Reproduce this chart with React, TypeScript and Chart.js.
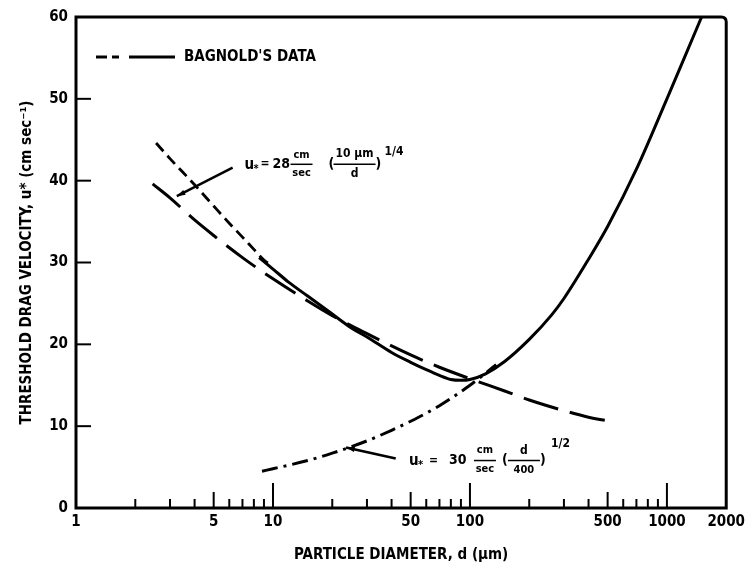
import React, { useEffect, useRef } from "react";
import { Chart, registerables } from "chart.js";
Chart.register(...registerables);

// ---- data ----
// Bagnold's data (solid)
const bagnoldD = [8.5, 10, 12, 15, 20, 25, 30, 40, 50, 60, 70, 80, 90, 100, 120, 150, 200, 260, 300, 400, 500, 700, 1000, 1250, 1500];
const bagnoldU = [30.6, 29.2, 27.6, 25.9, 23.7, 22.0, 20.9, 19.0, 17.8, 16.9, 16.2, 15.7, 15.6, 15.7, 16.4, 17.9, 20.6, 23.6, 25.6, 30.4, 34.4, 41.4, 50.0, 55.5, 60];
// Bagnold's data, extrapolated (short dashes)
const bagnoldExtD = [2.55, 3, 4, 5, 6, 7, 8, 9, 9.6];
const bagnoldExtU = [44.6, 42.7, 39.5, 36.9, 34.8, 33.1, 31.6, 30.3, 29.8];
// u* = 28 cm/sec (10 µm / d)^1/4 (long dashes)
const quarterD = [2.45, 3, 4, 5, 7, 10, 15, 20, 30, 50, 70, 100, 150, 200, 300, 400, 550];
const quarterU = [39.6, 37.9, 35.2, 33.3, 30.6, 28.0, 25.3, 23.5, 21.3, 18.7, 17.2, 15.8, 14.3, 13.2, 11.9, 11.1, 10.5];
// u* = 30 cm/sec (d / 400)^1/2 (dash-dot)
const halfD = [8.8, 10, 15, 20, 30, 40, 50, 70, 100, 136];
const halfU = [4.5, 4.8, 5.8, 6.7, 8.2, 9.5, 10.6, 12.5, 15.0, 17.5];

// axis ticks
const yTickValues = [0, 10, 20, 30, 40, 50, 60];
const yInnerTicks = [10, 20, 30, 40, 50];
const xTickLabels = [1, 5, 10, 50, 100, 500, 1000, 2000];
const xMajorTicks = [10, 100, 1000];
const xMidTicks = [5, 50, 500];
const xMinorTicks = [2, 3, 4, 6, 7, 8, 9, 20, 30, 40, 60, 70, 80, 90, 200, 300, 400, 600, 700, 800, 900];

// annotation anchors (data coordinates)
const eq1Anchor = { x: 7.17, y: 42.0 };
const eq1Leader = [{ x: 6.24, y: 41.6 }, { x: 3.25, y: 38.1 }];
const eq2Anchor = { x: 49, y: 5.8 };
const eq2Leader = [{ x: 42, y: 6.05 }, { x: 23.5, y: 7.4 }];

const FONT = "'Liberation Sans Narrow', 'DejaVu Sans Condensed', 'Arial Narrow', sans-serif";

const pts = (xs: number[], ys: number[]) => xs.map((v, i) => ({ x: v, y: ys[i] }));

const decor = {
  id: "decor",
  afterDatasetsDraw(chart: any) {
    const { ctx, chartArea: a, scales } = chart;
    const xs = scales.x;
    const ys = scales.y;
    const px = (v: number) => xs.getPixelForValue(v);
    const py = (v: number) => ys.getPixelForValue(v);
    ctx.save();
    ctx.strokeStyle = "#000";
    ctx.fillStyle = "#000";
    ctx.lineCap = "butt";
    // frame
    ctx.lineWidth = 3;
    ctx.beginPath();
    ctx.moveTo(a.left, a.top);
    ctx.lineTo(a.right - 5, a.top);
    ctx.quadraticCurveTo(a.right, a.top, a.right, a.top + 5);
    ctx.lineTo(a.right, a.bottom);
    ctx.lineTo(a.left, a.bottom);
    ctx.closePath();
    ctx.stroke();
    // x ticks (inside)
    ctx.lineWidth = 2;
    const xt = (v: number, len: number) => {
      const p = px(v);
      ctx.beginPath();
      ctx.moveTo(p, a.bottom);
      ctx.lineTo(p, a.bottom - len);
      ctx.stroke();
    };
    xMajorTicks.forEach((v) => xt(v, 25));
    xMidTicks.forEach((v) => xt(v, 16));
    xMinorTicks.forEach((v) => xt(v, 9));
    yInnerTicks.forEach((v) => {
      const p = py(v);
      ctx.beginPath();
      ctx.moveTo(a.left, p);
      ctx.lineTo(a.left + 15, p);
      ctx.stroke();
    });

    // legend
    const ly = a.top + 40;
    ctx.lineWidth = 3;
    const seg = (x1: number, x2: number) => {
      ctx.beginPath();
      ctx.moveTo(a.left + x1, ly);
      ctx.lineTo(a.left + x2, ly);
      ctx.stroke();
    };
    seg(20, 31);
    seg(36, 43);
    seg(53, 99);
    ctx.font = `bold 15px ${FONT}`;
    ctx.textBaseline = "middle";
    ctx.textAlign = "left";
    ctx.fillText("BAGNOLD'S DATA", a.left + 108, ly);

    const txt = (s: string, x: number, y: number, size: number, align: CanvasTextAlign = "left") => {
      ctx.font = `bold ${size}px ${FONT}`;
      ctx.textAlign = align;
      ctx.textBaseline = "middle";
      ctx.fillText(s, x, y);
    };
    const bar = (x1: number, x2: number, y: number) => {
      ctx.lineWidth = 1.5;
      ctx.beginPath();
      ctx.moveTo(x1, y);
      ctx.lineTo(x2, y);
      ctx.stroke();
    };
    const leader = (p: { x: number; y: number }[]) => {
      const x1 = px(p[0].x), y1 = py(p[0].y), x2 = px(p[1].x), y2 = py(p[1].y);
      ctx.lineWidth = 2.5;
      ctx.beginPath();
      ctx.moveTo(x1, y1);
      ctx.lineTo(x2, y2);
      ctx.stroke();
      const ang = Math.atan2(y2 - y1, x2 - x1);
      ctx.beginPath();
      ctx.moveTo(x2, y2);
      ctx.lineTo(x2 - 9 * Math.cos(ang - 0.3), y2 - 9 * Math.sin(ang - 0.3));
      ctx.lineTo(x2 - 9 * Math.cos(ang + 0.3), y2 - 9 * Math.sin(ang + 0.3));
      ctx.closePath();
      ctx.fill();
    };

    // equation 1
    leader(eq1Leader);
    {
      const x0 = px(eq1Anchor.x);
      const yc = py(eq1Anchor.y);
      txt("u", x0, yc + 1, 15);
      txt("*", x0 + 9, yc + 5, 11);
      txt("=", x0 + 16, yc, 12);
      txt("28", x0 + 28, yc, 14);
      txt("cm", x0 + 57, yc - 9, 11, "center");
      bar(x0 + 46, x0 + 68, yc);
      txt("sec", x0 + 57, yc + 9, 11, "center");
      txt("(", x0 + 84, yc, 14);
      txt("10 µm", x0 + 110, yc - 10, 12, "center");
      bar(x0 + 89, x0 + 131, yc);
      txt("d", x0 + 110, yc + 10, 12, "center");
      txt(")", x0 + 131, yc, 14);
      txt("1/4", x0 + 140, yc - 12, 12);
    }
    // equation 2
    leader(eq2Leader);
    {
      const x0 = px(eq2Anchor.x);
      const yc = py(eq2Anchor.y);
      txt("u", x0, yc + 1, 15);
      txt("*", x0 + 9, yc + 5, 11);
      txt("=", x0 + 20, yc, 12);
      txt("30", x0 + 40, yc, 14);
      txt("cm", x0 + 76, yc - 10, 11, "center");
      bar(x0 + 65, x0 + 87, yc);
      txt("sec", x0 + 76, yc + 9, 11, "center");
      txt("(", x0 + 93, yc, 14);
      txt("d", x0 + 115, yc - 10, 12, "center");
      bar(x0 + 99, x0 + 131, yc);
      txt("400", x0 + 115, yc + 10, 11, "center");
      txt(")", x0 + 131, yc, 14);
      txt("1/2", x0 + 142, yc - 17, 12);
    }
    ctx.restore();
  },
};

export default function App() {
  const ref = useRef<HTMLCanvasElement | null>(null);
  useEffect(() => {
    if (!ref.current) return;
    const common = { pointRadius: 0, borderColor: "#000", borderWidth: 3, fill: false, cubicInterpolationMode: "monotone" as const, showLine: true };
    const chart = new Chart(ref.current, {
      type: "line",
      data: {
        datasets: [
          { ...common, label: "Bagnold's data", data: pts(bagnoldD, bagnoldU) },
          { ...common, label: "Bagnold's data (extrapolated)", data: pts(bagnoldExtD, bagnoldExtU), borderDash: [11, 6], borderWidth: 2.8 },
          { ...common, label: "u* = 28 cm/sec (10 µm/d)^1/4", data: pts(quarterD, quarterU), borderDash: [36, 12] },
          { ...common, label: "u* = 30 cm/sec (d/400)^1/2", data: pts(halfD, halfU), borderDash: [16, 6, 3, 6] },
        ],
      },
      options: {
        animation: false,
        responsive: true,
        maintainAspectRatio: false,
        layout: { padding: { left: 0, right: 22, top: 12, bottom: 0 } },
        plugins: { legend: { display: false }, tooltip: { enabled: false } },
        scales: {
          x: {
            type: "logarithmic",
            min: 1,
            max: 2000,
            afterFit: (s: any) => { s.height = 58; },
            afterBuildTicks: (s: any) => { s.ticks = xTickLabels.map((v) => ({ value: v })); },
            grid: { display: false, drawTicks: false },
            border: { display: false },
            ticks: {
              autoSkip: false,
              maxRotation: 0,
              padding: 5,
              color: "#000",
              font: { family: FONT, size: 15, weight: "bold" },
              callback: (v: any) => String(v),
            },
            title: {
              display: true,
              text: "PARTICLE DIAMETER, d (µm)",
              color: "#000",
              font: { family: FONT, size: 15, weight: "bold" },
              padding: { top: 0, bottom: 2 },
            },
          },
          y: {
            type: "linear",
            min: 0,
            max: 60,
            afterFit: (s: any) => { s.width = 76; },
            afterBuildTicks: (s: any) => { s.ticks = yTickValues.map((v) => ({ value: v })); },
            grid: { display: false, drawTicks: false },
            border: { display: false },
            ticks: {
              padding: 8,
              color: "#000",
              font: { family: FONT, size: 15, weight: "bold" },
            },
            title: {
              display: true,
              text: "THRESHOLD DRAG VELOCITY, u* (cm sec⁻¹)",
              color: "#000",
              font: { family: FONT, size: 15, weight: "bold" },
              padding: { top: 18, bottom: 0 },
            },
          },
        },
      },
      plugins: [decor],
    });
    return () => chart.destroy();
  }, []);
  return (
    <div style={{ position: "absolute", left: 0, top: 0, width: 750, height: 566, background: "#fff" }}>
      <canvas ref={ref} />
    </div>
  );
}
